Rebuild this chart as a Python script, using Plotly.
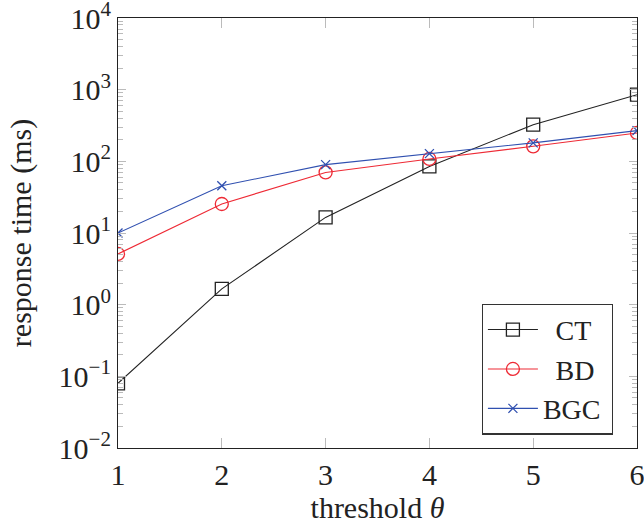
import plotly.graph_objects as go

thresholds = [1, 2, 3, 4, 5, 6]
ct = [0.08, 1.66, 16.5, 85, 325, 850]
bd = [5.1, 25.4, 70, 108, 162, 249]
bgc = [10, 45.6, 90, 128, 181, 268]
series_names = ["\u00a0\u2009CT\u2009", "\u00a0\u2009BD\u2009", "BGC\u2009"]

y_tickvals = [1e-2, 1e-1, 1e0, 1e1, 1e2, 1e3, 1e4]
y_ticktext = ["10<sup>\u22122</sup>", "10<sup>\u22121</sup>", "10<sup>0</sup>", "10<sup>1</sup>",
              "10<sup>2</sup>", "10<sup>3</sup>", "10<sup>4</sup>"]

FONT = "Liberation Serif"

fig = go.Figure()
fig.add_trace(go.Scatter(x=thresholds, y=ct, name=series_names[0], mode="lines+markers",
                         line=dict(color="#222222", width=1.1),
                         marker=dict(symbol="square-open", size=13, color="#222222",
                                     line=dict(width=1.3, color="#222222"))))
fig.add_trace(go.Scatter(x=thresholds, y=bd, name=series_names[1], mode="lines+markers",
                         line=dict(color="#ee2a35", width=1.1),
                         marker=dict(symbol="circle-open", size=13, color="#ee2a35",
                                     line=dict(width=1.3, color="#ee2a35"))))
fig.add_trace(go.Scatter(x=thresholds, y=bgc, name=series_names[2], mode="lines+markers",
                         line=dict(color="#3050b0", width=1.1),
                         marker=dict(symbol="x-thin-open", size=9, color="#3050b0",
                                     line=dict(width=1.3, color="#3050b0"))))

fig.update_layout(
    width=644, height=532,
    margin=dict(l=118, r=7, t=18, b=84, autoexpand=False),
    paper_bgcolor="white", plot_bgcolor="white",
    font=dict(family=FONT, size=30, color="#222222"),
    showlegend=True,
    legend=dict(x=0.7008, y=0.031, xanchor="left", yanchor="bottom",
                bgcolor="white", bordercolor="#333333", borderwidth=1.2,
                font=dict(family=FONT, size=28), tracegroupgap=0,
                itemwidth=50),
)
fig.update_xaxes(
    range=[1, 6], tickvals=thresholds, ticktext=[str(t) for t in thresholds],
    showline=True, linecolor="#222222", linewidth=1.2, mirror="allticks",
    ticks="inside", ticklen=10, tickcolor="#bbbbbb", tickwidth=1.2,
    showgrid=False, zeroline=False, automargin=False, ticklabeloverflow="allow",
    title=dict(text="threshold <i>\u03b8</i>", font=dict(size=30), standoff=6),
)
fig.update_yaxes(
    type="log", range=[-2, 4], tickvals=y_tickvals, ticktext=y_ticktext,
    showline=True, linecolor="#222222", linewidth=1.2, mirror="allticks",
    ticks="inside", ticklen=8, tickcolor="#bbbbbb", tickwidth=1.2,
    minor=dict(ticks="inside", ticklen=5, tickcolor="#bbbbbb", dtick="D1", showgrid=False),
    showgrid=False, zeroline=False, automargin=False, ticklabeloverflow="allow",
    title=dict(text="response time (ms)", font=dict(size=30), standoff=18),
)

# remove the browser's default 8px body margin so the figure fills the window exactly
fig.write_html("out.html", config={"displayModeBar": False},
               post_script="document.body.style.margin='0px';")
